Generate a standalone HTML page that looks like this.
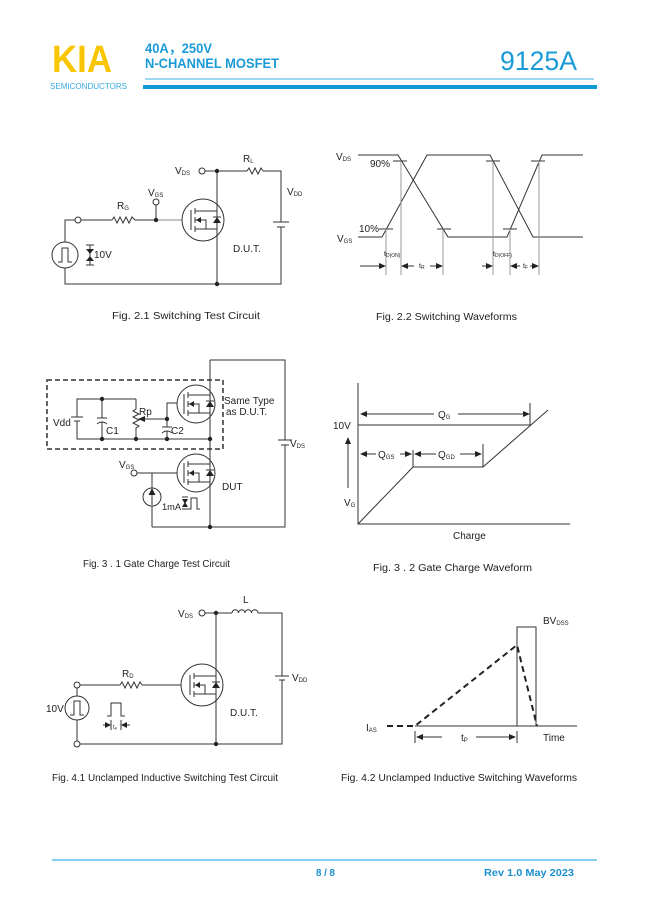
<!DOCTYPE html>
<html><head><meta charset="utf-8"><style>
html,body{margin:0;padding:0;background:#fff;}
svg{display:block;}
text{font-family:"Liberation Sans","Noto Sans CJK SC",sans-serif;}
</style></head><body>
<svg width="649" height="917" viewBox="0 0 649 917" xmlns="http://www.w3.org/2000/svg">
<defs>
<g id="m" stroke="#333" stroke-width="1" fill="none">
 <line x1="-12" y1="-10" x2="-12" y2="10"/>
 <line x1="-8" y1="-12" x2="-8" y2="-6"/>
 <line x1="-8" y1="-3" x2="-8" y2="3"/>
 <line x1="-8" y1="6" x2="-8" y2="12"/>
 <line x1="-8" y1="-9" x2="14" y2="-9"/>
 <line x1="-8" y1="9" x2="14" y2="9"/>
 <polyline points="-8,0 3,0 3,9"/>
 <polygon points="-7,0 -2,-3 -2,3" fill="#222" stroke="none"/>
 <polygon points="10,3 18,3 14,-3" fill="#222" stroke="none"/>
 <line x1="10" y1="-3" x2="18" y2="-3"/>
</g>
</defs>

<!-- HEADER -->
<text x="52" y="72" font-size="38" font-weight="bold" fill="#f8c500" textLength="60" lengthAdjust="spacingAndGlyphs">KIA</text>
<text x="50" y="89" font-size="8" fill="#36a9e1" textLength="77" lengthAdjust="spacingAndGlyphs">SEMICONDUCTORS</text>
<text x="145" y="53" font-size="14" font-weight="bold" fill="#1a9bd7" textLength="67" lengthAdjust="spacingAndGlyphs">40A，250V</text>
<text x="145" y="68" font-size="14" font-weight="bold" fill="#1a9bd7" textLength="134" lengthAdjust="spacingAndGlyphs">N-CHANNEL MOSFET</text>
<text x="500" y="70" font-size="27" fill="#1a9bd7" textLength="77" lengthAdjust="spacingAndGlyphs">9125A</text>
<line x1="145" y1="79" x2="594" y2="79" stroke="#3ab0e2" stroke-width="1"/>
<rect x="143" y="85" width="454" height="4" fill="#0f9ad5"/>

<g stroke="#333" stroke-width="1" fill="none">
<!-- FIG 2.1 -->
<circle cx="202" cy="171" r="3"/>
<line x1="205" y1="171" x2="247" y2="171"/>
<polyline points="247,171 249,168 252,174 255,168 258,174 261,168 263,171"/>
<polyline points="263,171 281,171 281,222"/>
<line x1="273" y1="222" x2="289" y2="222"/>
<line x1="277" y1="227" x2="285" y2="227"/>
<polyline points="281,227 281,284 65,284 65,220 75,220"/>
<line x1="217" y1="171" x2="217" y2="284"/>
<circle cx="78" cy="220" r="3"/>
<line x1="81" y1="220" x2="112" y2="220"/>
<polyline points="112,220 114,217 117,223 120,217 123,223 126,217 129,223 132,217 135,220"/>
<line x1="135" y1="220" x2="156" y2="220"/>
<line x1="156" y1="220" x2="156" y2="205"/>
<circle cx="156" cy="202" r="3"/>
<line x1="156" y1="220" x2="191" y2="220" stroke="#888"/>
<circle cx="203" cy="220" r="21" fill="#fff"/>
<line x1="217" y1="198" x2="217" y2="242"/>
<use href="#m" x="203" y="220"/>
<circle cx="65" cy="255" r="13" fill="#fff"/>
<polyline points="58,262 62,262 62,248 68,248 68,262 72,262"/>
<line x1="86" y1="245" x2="94" y2="245"/>
<line x1="86" y1="265" x2="94" y2="265"/>
<line x1="90" y1="245" x2="90" y2="265"/>
</g>
<g fill="#222">
<circle cx="217" cy="171" r="2.2"/><circle cx="217" cy="284" r="2.2"/><circle cx="156" cy="220" r="2.2"/>
<polygon points="86,249 94,249 90,254"/><polygon points="86,261 94,261 90,256"/>
</g>
<g font-size="10" fill="#222">
<text x="175" y="174">V<tspan font-size="6" dy="1">DS</tspan></text>
<text x="243" y="162">R<tspan font-size="6" dy="1">L</tspan></text>
<text x="287" y="195">V<tspan font-size="6" dy="1">DD</tspan></text>
<text x="117" y="209">R<tspan font-size="6" dy="1">G</tspan></text>
<text x="148" y="196">V<tspan font-size="6" dy="1">GS</tspan></text>
<text x="94" y="258">10V</text>
<text x="233" y="252">D.U.T.</text>
<text x="112" y="319" font-size="10.5" textLength="148" lengthAdjust="spacingAndGlyphs">Fig. 2.1 Switching Test Circuit</text>
</g>

<!-- FIG 2.2 -->
<g stroke="#333" stroke-width="1" fill="none">
<polyline points="358,237 382,237 427,155 490,155 533,237 583,237"/>
<polyline points="358,155 398,155 448,237 507,237 542,155 583,155"/>
<line x1="393" y1="161" x2="407" y2="161"/><line x1="486" y1="161" x2="500" y2="161"/><line x1="531" y1="161" x2="545" y2="161"/>
<line x1="379" y1="229" x2="393" y2="229"/><line x1="437" y1="229" x2="451" y2="229"/><line x1="503" y1="229" x2="517" y2="229"/>
<g stroke="#999">
<line x1="386" y1="229" x2="386" y2="275"/><line x1="401" y1="161" x2="401" y2="275"/>
<line x1="443" y1="229" x2="443" y2="275"/><line x1="493" y1="161" x2="493" y2="275"/>
<line x1="510" y1="229" x2="510" y2="275"/><line x1="539" y1="161" x2="539" y2="275"/>
</g>
<line x1="360" y1="266" x2="380" y2="266"/>
<line x1="406" y1="266" x2="414" y2="266"/>
<line x1="430" y1="266" x2="438" y2="266"/>
<line x1="482" y1="266" x2="488" y2="266"/>
<line x1="515" y1="266" x2="520" y2="266"/>
<line x1="530" y1="266" x2="534" y2="266"/>
</g>
<g fill="#222">
<polygon points="386,266 379,263 379,269"/>
<polygon points="401,266 408,263 408,269"/>
<polygon points="443,266 436,263 436,269"/>
<polygon points="493,266 486,263 486,269"/>
<polygon points="510,266 517,263 517,269"/>
<polygon points="539,266 532,263 532,269"/>
</g>
<g font-size="10" fill="#222">
<text x="336" y="160">V<tspan font-size="6" dy="1">DS</tspan></text>
<text x="370" y="167">90%</text>
<text x="359" y="232">10%</text>
<text x="337" y="242">V<tspan font-size="6" dy="1">GS</tspan></text>
<text x="384" y="256" font-size="7">t<tspan font-size="5" dy="1">D(ON)</tspan></text>
<text x="493" y="256" font-size="7">t<tspan font-size="5" dy="1">D(OFF)</tspan></text>
<text x="419" y="268" font-size="7">t<tspan font-size="5" dy="1">R</tspan></text>
<text x="523" y="268" font-size="7">t<tspan font-size="5" dy="1">F</tspan></text>
<text x="376" y="320" font-size="10.5" textLength="141" lengthAdjust="spacingAndGlyphs">Fig. 2.2 Switching Waveforms</text>
</g>

<!-- FIG 3.1 -->
<g stroke="#333" stroke-width="1" fill="none">
<rect x="47" y="380" width="176" height="69" stroke-width="1.5" stroke-dasharray="5,3"/>
<polyline points="210,360 285,360 285,440"/>
<line x1="278" y1="440" x2="292" y2="440"/>
<line x1="281" y1="445" x2="289" y2="445"/>
<polyline points="285,445 285,527 152,527"/>
<line x1="210" y1="360" x2="210" y2="527"/>
<polyline points="136,399 77,399 77,417"/>
<line x1="71" y1="417" x2="83" y2="417"/>
<line x1="74" y1="421" x2="80" y2="421"/>
<polyline points="77,421 77,439 210,439"/>
<line x1="102" y1="399" x2="102" y2="418"/>
<line x1="97" y1="418" x2="107" y2="418"/>
<path d="M97,424 Q102,420 107,424"/>
<line x1="102" y1="422" x2="102" y2="439"/>
<polyline points="136,399 136,409 133,411 139,414 133,417 139,420 133,423 139,426 136,428 136,439"/>
<line x1="144" y1="419" x2="167" y2="419"/>
<polyline points="184,403 167,403 167,427"/>
<line x1="162" y1="427" x2="172" y2="427"/>
<path d="M162,433 Q167,429 172,433"/>
<line x1="167" y1="431" x2="167" y2="439"/>
<circle cx="196" cy="404" r="19" fill="#fff"/>
<line x1="210" y1="384" x2="210" y2="424"/>
<use href="#m" x="196" y="404"/>
<circle cx="134" cy="473" r="3"/>
<line x1="137" y1="473" x2="184" y2="473"/>
<line x1="152" y1="473" x2="152" y2="527"/>
<circle cx="196" cy="473" r="19" fill="#fff"/>
<line x1="210" y1="453" x2="210" y2="493"/>
<use href="#m" x="196" y="473"/>
<circle cx="152" cy="497" r="9" fill="#fff"/>
<line x1="152" y1="505" x2="152" y2="494"/>
<line x1="182" y1="497" x2="188" y2="497"/>
<line x1="182" y1="509" x2="188" y2="509"/>
<polyline points="188,509 191,509 191,498 197,498 197,509 200,509"/>
</g>
<g fill="#222">
<circle cx="102" cy="399" r="2.2"/><circle cx="102" cy="439" r="2.2"/>
<circle cx="136" cy="439" r="2.2"/><circle cx="167" cy="439" r="2.2"/>
<circle cx="210" cy="439" r="2.2"/><circle cx="167" cy="419" r="2.2"/>
<circle cx="210" cy="527" r="2.2"/>
<polygon points="138,419 145,416 145,422"/>
<polygon points="152,488 148.5,495 155.5,495"/>
<polygon points="185,504 182,499 188,499"/><polygon points="185,502 182,507 188,507"/>
</g>
<g font-size="10" fill="#222">
<text x="53" y="426">Vdd</text>
<text x="106" y="434">C1</text>
<text x="139" y="415">Rp</text>
<text x="171" y="434">C2</text>
<text x="224" y="404">Same Type</text>
<text x="226" y="415">as D.U.T.</text>
<text x="290" y="447">V<tspan font-size="6" dy="1">DS</tspan></text>
<text x="119" y="468">V<tspan font-size="6" dy="1">GS</tspan></text>
<text x="162" y="510" font-size="9.5" textLength="19" lengthAdjust="spacingAndGlyphs">1mA</text>
<text x="222" y="490">DUT</text>
<text x="83" y="567" font-size="10" textLength="147" lengthAdjust="spacingAndGlyphs">Fig. 3 . 1 Gate Charge Test Circuit</text>
</g>

<!-- FIG 3.2 -->
<g stroke="#333" stroke-width="1" fill="none">
<polyline points="358,383 358,524 570,524"/>
<line x1="358" y1="425" x2="530" y2="425"/>
<polyline points="358,524 413,467 483,467 548,410"/>
<line x1="366" y1="414" x2="434" y2="414"/>
<line x1="458" y1="414" x2="524" y2="414"/>
<line x1="530" y1="403" x2="530" y2="425"/>
<line x1="366" y1="454" x2="376" y2="454"/>
<line x1="400" y1="454" x2="406" y2="454"/>
<line x1="413" y1="450" x2="413" y2="467"/>
<line x1="420" y1="454" x2="436" y2="454"/>
<line x1="460" y1="454" x2="476" y2="454"/>
<line x1="483" y1="444" x2="483" y2="467"/>
<line x1="348" y1="488" x2="348" y2="443"/>
</g>
<g fill="#222">
<polygon points="360,414 367,411 367,417"/>
<polygon points="530,414 523,411 523,417"/>
<polygon points="360,454 367,451 367,457"/>
<polygon points="412,454 405,451 405,457"/>
<polygon points="414,454 421,451 421,457"/>
<polygon points="482,454 475,451 475,457"/>
<polygon points="348,437 345,444 351,444"/>
</g>
<g font-size="10" fill="#222">
<text x="438" y="418">Q<tspan font-size="6" dy="1">G</tspan></text>
<text x="378" y="458">Q<tspan font-size="6" dy="1">GS</tspan></text>
<text x="438" y="458">Q<tspan font-size="6" dy="1">GD</tspan></text>
<text x="333" y="429">10V</text>
<text x="344" y="506">V<tspan font-size="6" dy="1">G</tspan></text>
<text x="453" y="539">Charge</text>
<text x="373" y="571" font-size="10" textLength="159" lengthAdjust="spacingAndGlyphs">Fig. 3 . 2 Gate Charge Waveform</text>
</g>

<!-- FIG 4.1 -->
<g stroke="#333" stroke-width="1" fill="none">
<circle cx="202" cy="613" r="3"/>
<line x1="205" y1="613" x2="232" y2="613"/>
<path d="M232,613 a3.25,3.25 0 0 1 6.5,0 a3.25,3.25 0 0 1 6.5,0 a3.25,3.25 0 0 1 6.5,0 a3.25,3.25 0 0 1 6.5,0"/>
<polyline points="258,613 282,613 282,676"/>
<line x1="275" y1="676" x2="289" y2="676"/>
<line x1="279" y1="680" x2="285" y2="680"/>
<polyline points="282,680 282,744 80,744"/>
<circle cx="77" cy="744" r="3"/>
<line x1="216" y1="613" x2="216" y2="744"/>
<circle cx="77" cy="685" r="3"/>
<line x1="80" y1="685" x2="120" y2="685"/>
<polyline points="120,685 122,682 125,688 128,682 131,688 134,682 137,688 140,682 142,685"/>
<line x1="142" y1="685" x2="190" y2="685"/>
<line x1="77" y1="688" x2="77" y2="741"/>
<circle cx="202" cy="685" r="21" fill="#fff"/>
<line x1="216" y1="664" x2="216" y2="706"/>
<use href="#m" x="202" y="685"/>
<circle cx="77" cy="708" r="12" fill="#fff"/>
<polyline points="70,715 74,715 74,701 80,701 80,715 84,715"/>
<polyline points="107,716 111,716 111,703 121,703 121,716 125,716"/>
<line x1="111" y1="720" x2="111" y2="730"/>
<line x1="121" y1="720" x2="121" y2="730"/>
<line x1="103" y1="725" x2="106" y2="725"/>
<line x1="126" y1="725" x2="130" y2="725"/>
</g>
<g fill="#222">
<circle cx="216" cy="613" r="2.2"/><circle cx="216" cy="744" r="2.2"/>
<polygon points="111,725 105,722 105,728"/>
<polygon points="121,725 127,722 127,728"/>
</g>
<g font-size="10" fill="#222">
<text x="178" y="617">V<tspan font-size="6" dy="1">DS</tspan></text>
<text x="243" y="603">L</text>
<text x="292" y="681">V<tspan font-size="6" dy="1">DD</tspan></text>
<text x="122" y="677">R<tspan font-size="6" dy="1">D</tspan></text>
<text x="46" y="712">10V</text>
<text x="113" y="729" font-size="6">t<tspan font-size="4" dy="1">P</tspan></text>
<text x="230" y="716">D.U.T.</text>
<text x="52" y="781" font-size="10" textLength="226" lengthAdjust="spacingAndGlyphs">Fig. 4.1 Unclamped Inductive Switching Test Circuit</text>
</g>

<!-- FIG 4.2 -->
<g stroke="#333" stroke-width="1" fill="none">
<line x1="415" y1="726" x2="577" y2="726"/>
<polyline points="517,726 517,627 536,627 536,726"/>
<polyline points="387,726 415,726 517,645 537,726" stroke="#222" stroke-width="2" stroke-dasharray="6,4"/>
<line x1="415" y1="731" x2="415" y2="743"/>
<line x1="517" y1="731" x2="517" y2="743"/>
<line x1="422" y1="737" x2="442" y2="737"/>
<line x1="476" y1="737" x2="510" y2="737"/>
</g>
<g fill="#222">
<polygon points="416,737 423,734 423,740"/>
<polygon points="516,737 509,734 509,740"/>
</g>
<g font-size="10" fill="#222">
<text x="543" y="624">BV<tspan font-size="6" dy="1">DSS</tspan></text>
<text x="366" y="731">I<tspan font-size="6" dy="1">AS</tspan></text>
<text x="461" y="741">t<tspan font-size="6" dy="1">P</tspan></text>
<text x="543" y="741">Time</text>
<text x="341" y="781" font-size="10" textLength="236" lengthAdjust="spacingAndGlyphs">Fig. 4.2 Unclamped Inductive Switching Waveforms</text>
</g>

<!-- FOOTER -->
<line x1="52" y1="860" x2="597" y2="860" stroke="#3ab4e6" stroke-width="1.2"/>
<text x="316" y="876" font-size="10" font-weight="bold" fill="#1c8fd0" textLength="19" lengthAdjust="spacingAndGlyphs">8 / 8</text>
<text x="484" y="876" font-size="10" font-weight="bold" fill="#1c8fd0" textLength="90" lengthAdjust="spacingAndGlyphs">Rev 1.0   May 2023</text>
</svg>
</body></html>
